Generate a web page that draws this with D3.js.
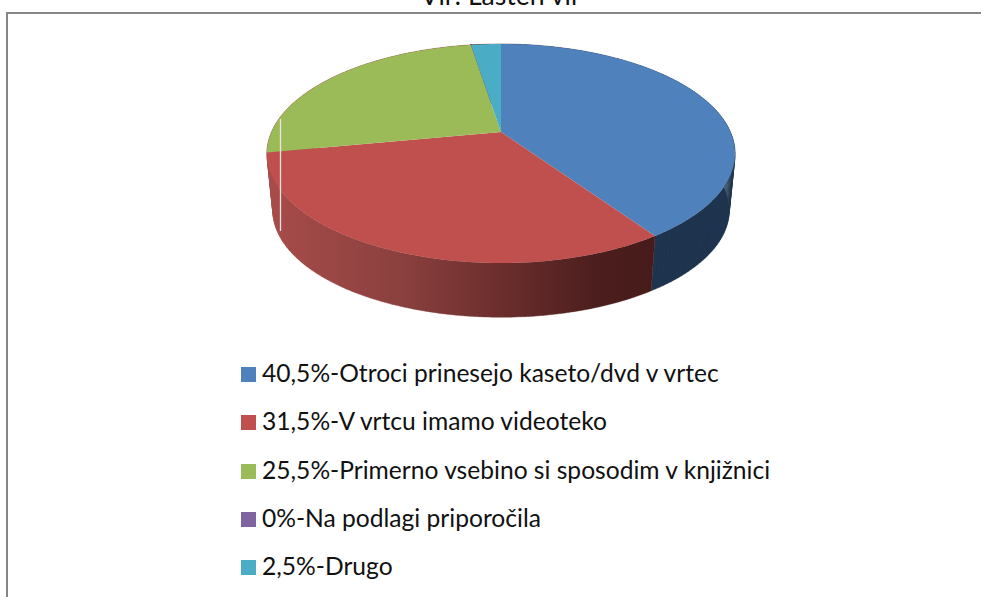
<!DOCTYPE html>
<html>
<head>
<meta charset="utf-8">
<style>
html,body{margin:0;padding:0;background:#fff;overflow:hidden}
svg{display:block}
text{font-family:Lato,"Open Sans",sans-serif;fill:#111}
</style>
<script src="https://cdn.jsdelivr.net/npm/d3@7"></script>
</head>
<body>
<svg id="c" width="981" height="597"></svg>
<script>
const titleText = "Vir: Lasten vir";
const categories = [
  "40,5%-Otroci prinesejo kaseto/dvd v vrtec",
  "31,5%-V vrtcu imamo videoteko",
  "25,5%-Primerno vsebino si sposodim v knjižnici",
  "0%-Na podlagi priporočila",
  "2,5%-Drugo"
];
const values = [40.5, 31.5, 25.5, 0, 2.5];
const colors = ["#4F81BD", "#C0504D", "#9BBB59", "#8064A2", "#4BACC6"];

const svg = d3.select("#c");

// Frame (cropped chart area: only top and left edges are visible)
svg.append("path")
  .attr("d", "M7,597V13H981")
  .attr("fill", "none").attr("stroke", "#868686").attr("stroke-width", 2);

// Title, cut off by the top of the picture as in the source
svg.append("text").attr("x", 500.5).attr("y", 5)
  .attr("text-anchor", "middle").attr("font-size", 26.6).text(titleText);

// Perspective projection of the unit disc
const tilt = -0.1963;
const sx = d3.scaleLinear().domain([-1, 1]).range([501 - 229.5, 501 + 229.5]);
const sy = d3.scaleLinear().domain([-1, 1]).range([132 - 105.3, 132 + 105.3]);
const project = (a, scale, dy) => {
  const u = Math.sin(a), v = -Math.cos(a), w = 1 + tilt * v;
  return [501 + (sx(u / w) - 501) * scale, 132 + (sy(v / w) - 132) * scale + dy];
};
const depth = 57.5, shrink = 0.975;
const arcs = d3.pie().value(d => d).sort(null)(values);
const line = d3.line();
const stepsFor = (a0, a1) => d3.range(0, 121).map(i => a0 + (a1 - a0) * i / 120);

// Horizontal shading of the red wall
const grad = svg.append("defs").append("linearGradient")
  .attr("id", "redSide").attr("gradientUnits", "userSpaceOnUse")
  .attr("x1", 267).attr("x2", 653).attr("y1", 0).attr("y2", 0);
[[0, "#A84C4A"], [0.35, "#8A403E"], [0.6, "#6C2E2D"], [0.85, "#4C1F1E"], [1, "#471B1A"]]
  .forEach(([o, c]) => grad.append("stop").attr("offset", o).attr("stop-color", c));

// Walls: one quad per angular step, so the silhouette joins both rims.
// Slices behind the left rim share the red shading, as they do in the picture.
const wallFill = ["#1F344F", "url(#redSide)", "url(#redSide)", "url(#redSide)", "url(#redSide)"];
svg.append("g").selectAll("path").data(arcs).join("path")
  .attr("d", d => {
    const as = stepsFor(d.startAngle, d.endAngle);
    return d3.pairs(as).map(([a, b]) => line([
      project(a, 1, 0), project(b, 1, 0), project(b, shrink, depth), project(a, shrink, depth)
    ]) + "Z").join("");
  })
  .attr("fill", (d, i) => wallFill[i])
  .attr("stroke", (d, i) => wallFill[i]).attr("stroke-width", 0.4);

// Top faces
svg.append("g").selectAll("path").data(arcs).join("path")
  .attr("d", d => line([[501, 132]].concat(stepsFor(d.startAngle, d.endAngle).map(a => project(a, 1, 0)))) + "Z")
  .attr("fill", (d, i) => colors[i]);

// Light vertical hairline on the left of the pie
svg.append("line").attr("x1", 280.5).attr("x2", 280.5).attr("y1", 119).attr("y2", 231)
  .attr("stroke", "#EEE3E3").attr("stroke-width", 1.3);

// Legend
const rowY = d3.scalePoint().domain(categories).range([382, 575]).round(false);
const rows = svg.append("g").selectAll("g").data(categories).join("g")
  .attr("transform", d => `translate(0,${Math.round(rowY(d))})`);
rows.append("rect").attr("x", 241).attr("y", -15).attr("width", 15).attr("height", 15)
  .attr("fill", (d, i) => colors[i]);
rows.append("text").attr("x", 262).attr("y", 0).attr("font-size", 24.6).text(d => d);
</script>
</body>
</html>
